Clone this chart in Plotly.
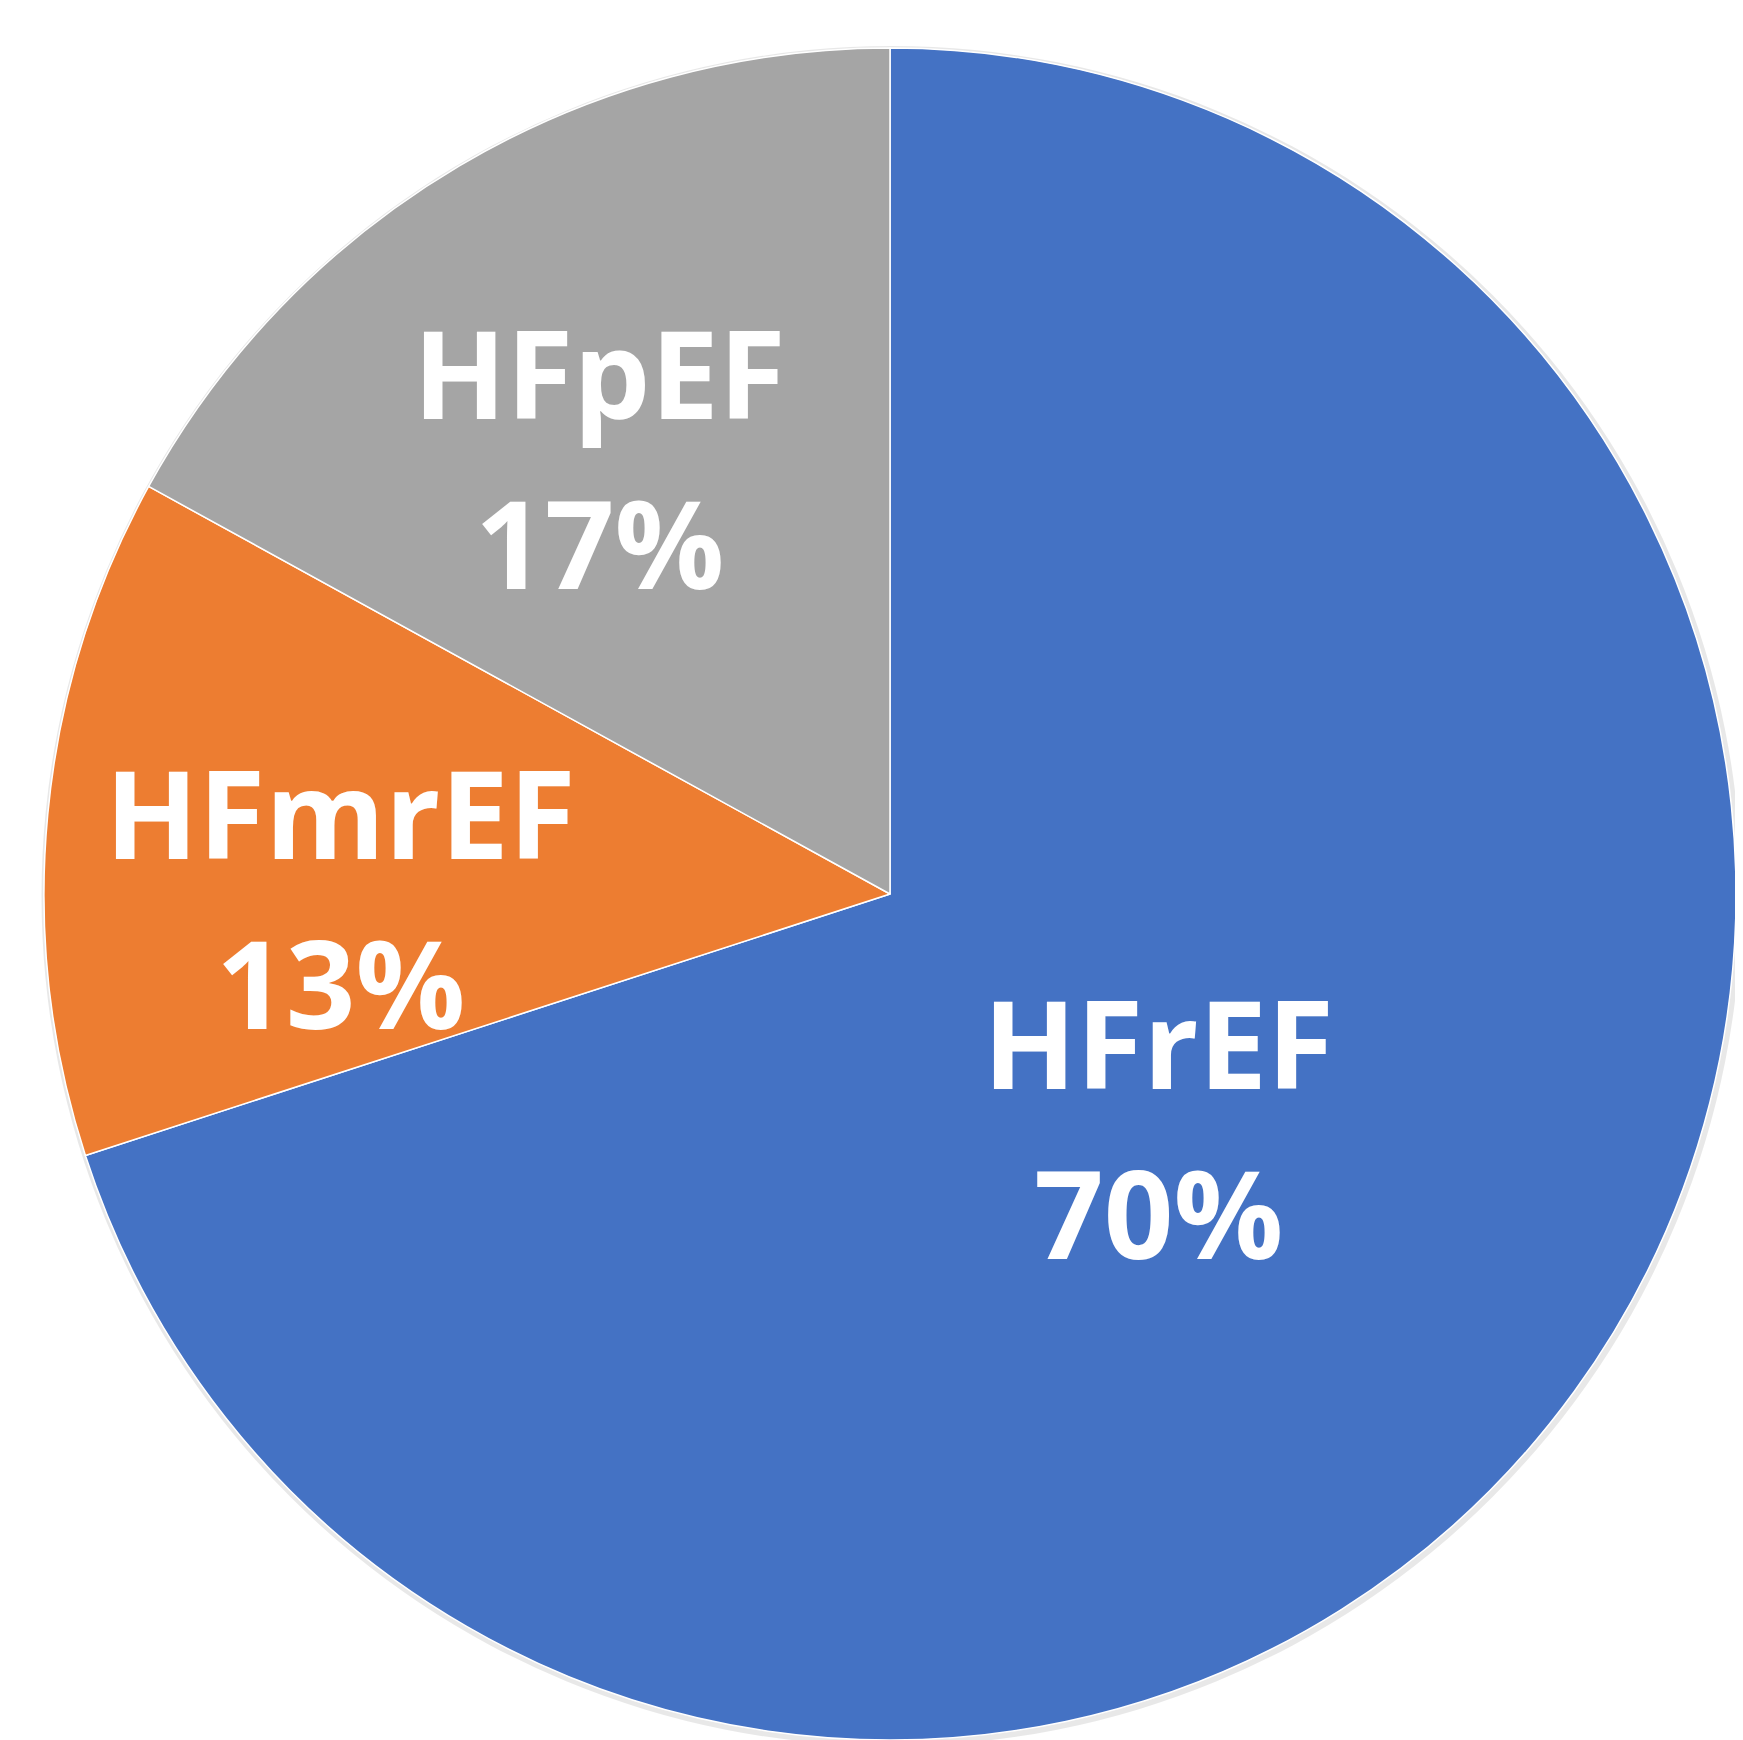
import math
import plotly.graph_objects as go

labels = ["HFrEF", "HFmrEF", "HFpEF"]
values = [70, 13, 17]
colors = ["#4472C4", "#ED7D31", "#A5A5A5"]
label_radius = [0.42, 0.65, 0.62]   # label distance from centre, fraction of radius
label_angle_shift = [5, -5.7, -3]   # degrees, best-fit tweak

W, H = 1743, 1740
PAGE_OFF = 8                      # browser body margin
CX, CY, R = 890 - PAGE_OFF, 894 - PAGE_OFF, 846  # pixel geometry of the pie inside the figure
LINE_GAP = 170                    # baseline-to-baseline distance of the two label lines

dom_x = [(CX - R) / W, (CX + R) / W]
dom_y = [1 - (CY + R) / H, 1 - (CY - R) / H]
dom_y = [max(0, dom_y[0]), min(1, dom_y[1])]

fig = go.Figure()

# soft shadow under the pie
fig.add_trace(go.Pie(
    values=[1], labels=["shadow"], sort=False,
    marker=dict(colors=["rgba(0,0,0,0.09)"], line=dict(width=0)),
    textinfo="none", hoverinfo="skip", showlegend=False,
    domain=dict(x=[(CX - R - 3) / W, (CX + R + 6) / W],
                y=[max(0, 1 - (CY + R + 6) / H), 1 - (CY - R - 2) / H]),
))

fig.add_trace(go.Pie(
    labels=labels,
    values=values,
    sort=False,
    direction="clockwise",
    rotation=0,
    marker=dict(colors=colors, line=dict(color="white", width=1.5)),
    textinfo="none",
    showlegend=False,
    hoverinfo="label+percent",
    domain=dict(x=dom_x, y=dom_y),
))

total = sum(values)
cum = 0
font = dict(family="Open Sans, sans-serif", size=122, color="white", weight="bold")
for lab, v, rf, sh in zip(labels, values, label_radius, label_angle_shift):
    mid = (cum + v / 2) / total * 360 + sh
    cum += v
    px = CX + rf * R * math.sin(math.radians(mid))
    py = CY - rf * R * math.cos(math.radians(mid))
    for txt, dy in ((lab, -LINE_GAP / 2), (f"{round(v / total * 100)}%", LINE_GAP / 2)):
        fig.add_annotation(
            x=px / W, y=1 - (py + dy) / H, xref="paper", yref="paper",
            xanchor="center", yanchor="middle", showarrow=False,
            text=txt, font=font, align="center",
        )

fig.update_layout(
    width=W, height=H,
    margin=dict(l=0, r=0, t=0, b=0),
    paper_bgcolor="white",
    plot_bgcolor="white",
)

fig.write_html("out.html")
